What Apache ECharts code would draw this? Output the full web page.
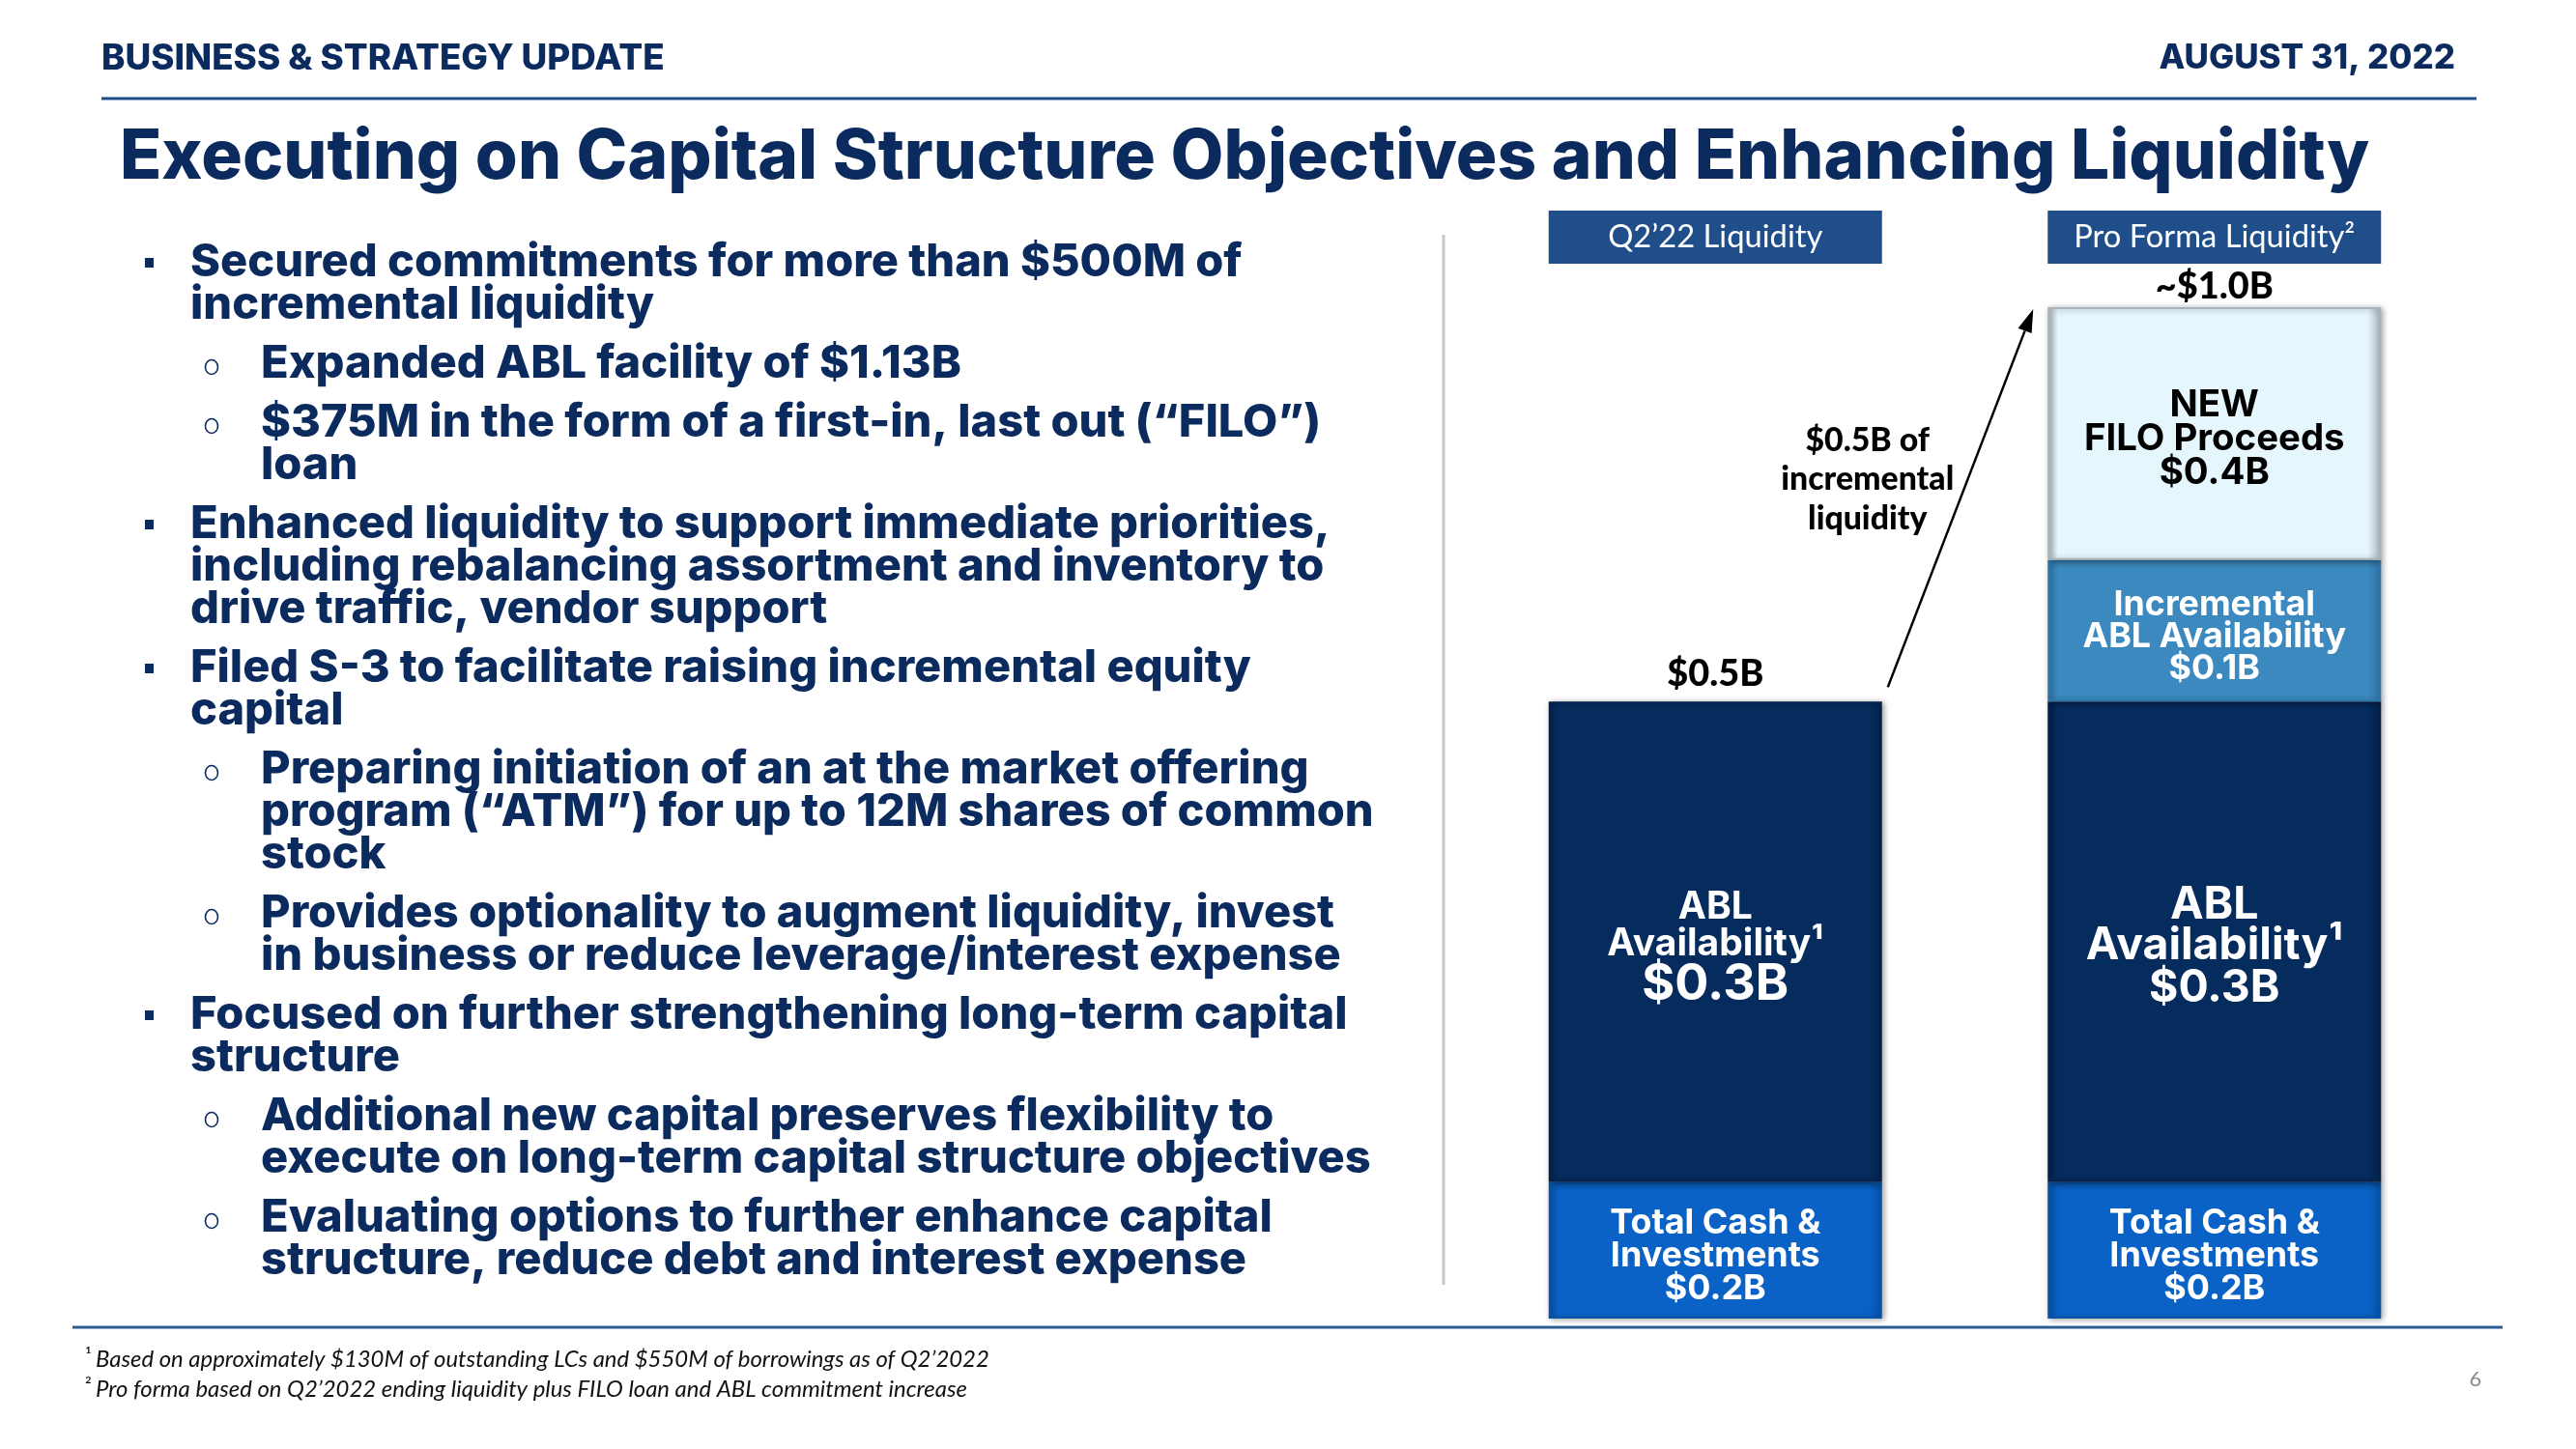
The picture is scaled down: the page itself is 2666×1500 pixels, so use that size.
<!DOCTYPE html>
<html><head><meta charset="utf-8">
<script src="https://cdn.jsdelivr.net/npm/echarts@6/dist/echarts.min.js"></script>
<style>html,body{margin:0;padding:0;background:#fff}#c{width:2666px;height:1500px}</style>
</head><body><div id="c"></div>
<script>
// ---------------- DATA ----------------
const categories = ["Q2’22 Liquidity", "Pro Forma Liquidity²"];
// segment heights as drawn in the picture ($B, scaled so the pro forma bar ≈ 1.0)
const cashValues = [0.135, 0.135];
const ablValues = [0.475, 0.475];
const incrementalValues = [null, 0.14];
const filoValues = [null, 0.25];
// printed labels
const cashLabels = ["Total Cash &\nInvestments\n$0.2B", "Total Cash &\nInvestments\n$0.2B"];
const ablLabels = ["ABL\nAvailability¹\n$0.3B", "ABL\nAvailability¹\n$0.3B"];
const incrementalLabels = ["", "Incremental\nABL Availability\n$0.1B"];
const filoLabels = ["", "NEW\nFILO Proceeds\n$0.4B"];
const totalLabels = ["$0.5B", "~$1.0B"];
const arrowNote = ["$0.5B of", "incremental", "liquidity"];

const headerLeft = "BUSINESS & STRATEGY UPDATE";
const headerRight = "AUGUST 31, 2022";
const titleText = "Executing on Capital Structure Objectives and Enhancing Liquidity";
const bulletParas = [
  {level: 1, lines: ["Secured commitments for more than $500M of", "incremental liquidity"]},
  {level: 2, lines: ["Expanded ABL facility of $1.13B"]},
  {level: 2, lines: ["$375M in the form of a first-in, last out (“FILO”)", "loan"]},
  {level: 1, lines: ["Enhanced liquidity to support immediate priorities,", "including rebalancing assortment and inventory to", "drive traffic, vendor support"]},
  {level: 1, lines: ["Filed S-3 to facilitate raising incremental equity", "capital"]},
  {level: 2, lines: ["Preparing initiation of an at the market offering", "program (“ATM”) for up to 12M shares of common", "stock"]},
  {level: 2, lines: ["Provides optionality to augment liquidity, invest", "in business or reduce leverage/interest expense"]},
  {level: 1, lines: ["Focused on further strengthening long-term capital", "structure"]},
  {level: 2, lines: ["Additional new capital preserves flexibility to", "execute on long-term capital structure objectives"]},
  {level: 2, lines: ["Evaluating options to further enhance capital", "structure, reduce debt and interest expense"]}
];
const footnotes = [
  {sup: "¹", text: "Based on approximately $130M of outstanding LCs and $550M of borrowings as of Q2’2022"},
  {sup: "²", text: "Pro forma based on Q2’2022 ending liquidity plus FILO loan and ABL commitment increase"}
];
const pageNumber = "6";

// ---------------- STYLE / LAYOUT ----------------
const NAVY = '#0B2B5E';
const RULE = '#1F4E8A';
const FG = 'Inter';
const FH = 'Lato';
const BAR_W = 345;
const ctx = document.createElement('canvas').getContext('2d');
function fit(text, target, weight, family, style) {
  ctx.font = (style || 'normal') + ' ' + weight + ' 100px "' + family + '"';
  return +(100 * target / ctx.measureText(text).width).toFixed(1);
}

const chart = echarts.init(document.getElementById('c'), null, {renderer: 'canvas', width: 2666, height: 1500});

function richLabel(text, color, specs) {
  if (!text) return {show: false};
  const lines = text.split('\n');
  const rich = {};
  lines.forEach((l, i) => {
    const s = specs[i];
    rich['r' + i] = {
      fontFamily: FG, fontWeight: 700, color: color,
      fontSize: fit(s.ref || l, s.w, 700, FG), lineHeight: s.lh
    };
  });
  return {
    show: true, position: 'inside', offset: [0, 6],
    formatter: lines.map((l, i) => '{r' + i + '|' + l + '}').join('\n'),
    rich: rich
  };
}
const cashSpec = [{w: 218, lh: 34, ref: 'Total Cash &'}, {w: 218, lh: 34, ref: 'Total Cash &'}, {w: 218, lh: 34, ref: 'Total Cash &'}];
const ablSpec = [
  [{w: 224, lh: 38, ref: 'Availability¹'}, {w: 224, lh: 38, ref: 'Availability¹'}, {w: 152, lh: 46, ref: '$0.3B'}],
  [{w: 266, lh: 42, ref: 'Availability¹'}, {w: 266, lh: 42, ref: 'Availability¹'}, {w: 266, lh: 46, ref: 'Availability¹'}]
];
const incSpec = [{w: 273, lh: 33, ref: 'ABL Availability'}, {w: 273, lh: 33, ref: 'ABL Availability'}, {w: 273, lh: 33, ref: 'ABL Availability'}];
const filoSpec = [{w: 270, lh: 35, ref: 'FILO Proceeds'}, {w: 270, lh: 35, ref: 'FILO Proceeds'}, {w: 270, lh: 35, ref: 'FILO Proceeds'}];

function seg(name, values, labels, color, light, border, txtColor, specFn) {
  return {
    type: 'bar', name: name, stack: 'liq', barWidth: BAR_W,
    itemStyle: {
      color: new echarts.graphic.LinearGradient(0, 0, 1, 0, [
        {offset: 0, color: border}, {offset: 0.03, color: color},
        {offset: 0.96, color: color}, {offset: 1, color: border}
      ]),
      borderColor: border, borderWidth: 2,
      shadowBlur: 6, shadowColor: 'rgba(0,0,0,0.35)', shadowOffsetX: 2, shadowOffsetY: 1
    },
    data: values.map((v, i) => ({
      value: v == null ? '-' : v,
      label: richLabel(labels[i], txtColor, specFn(i))
    }))
  };
}

chart.setOption({
  animation: false,
  grid: {left: 1517, width: 1033, top: 318, bottom: 135},
  xAxis: {type: 'category', data: categories, show: false},
  yAxis: {type: 'value', min: 0, max: 1.0, show: false},
  series: [
    seg('Total Cash & Investments', cashValues, cashLabels, '#0A62C6', '#3F8AE0', '#0852A8', '#fff', () => cashSpec),
    seg('ABL Availability', ablValues, ablLabels, '#062C5E', '#2A4F80', '#04224B', '#fff', i => ablSpec[i]),
    seg('Incremental ABL Availability', incrementalValues, incrementalLabels, '#3B89BF', '#6FAAD3', '#2F76A8', '#fff', () => incSpec),
    seg('NEW FILO Proceeds', filoValues, filoLabels, '#E6F6FD', '#FFFFFF', '#A8B3BC', '#000', () => filoSpec)
  ]
});

// ---------------- ANNOTATIONS ----------------
const g = [];
function txt(text, x, y, size, opts) {
  opts = opts || {};
  g.push({type: 'text', x: x, y: y, z: 50, style: {
    text: text, fontSize: size, fontFamily: opts.family || FG, fontWeight: opts.weight || 700,
    fontStyle: opts.style || 'normal', fill: opts.color || NAVY,
    align: opts.align || 'left', textAlign: opts.align || 'left',
    verticalAlign: 'middle', textVerticalAlign: 'middle'
  }});
}
function line(x1, y1, x2, y2, color, w) {
  g.push({type: 'line', z: 40, shape: {x1, y1, x2, y2}, style: {stroke: color, lineWidth: w}});
}

// header
txt(headerLeft, 105, 61, fit(headerLeft, 582, 800, FG), {weight: 800});
txt(headerRight, 2541, 61, fit(headerRight, 307, 800, FG), {weight: 800, align: 'right'});
line(105, 102, 2563, 102, RULE, 3);
txt(titleText, 124, 164, fit(titleText, 2329, 800, FG), {weight: 800});

// bullets
const bSize = fit("execute on long-term capital structure objectives", 1148, 800, FG);
let y = 272;
bulletParas.forEach((p, pi) => {
  if (pi > 0) y += 61 - 44;
  p.lines.forEach((l, li) => {
    if (li === 0) {
      if (p.level === 1) g.push({type: 'rect', z: 50, shape: {x: 150, y: y - 5, width: 9, height: 10}, style: {fill: NAVY}});
      else g.push({type: 'ellipse', z: 50, shape: {cx: 219, cy: y + 3, rx: 6.5, ry: 7.5}, style: {fill: 'none', stroke: NAVY, lineWidth: 1.6}});
    }
    txt(l, p.level === 1 ? 197 : 270, y, bSize, {weight: 800});
    y += 44;
  });
});

// separators
line(1494, 243, 1494, 1330, '#C8C8C8', 3);
line(75, 1374, 2590, 1374, '#2F5C93', 3);

// footnotes
const fSize = fit(footnotes[0].text, 924, 400, FH, 'italic');
footnotes.forEach((f, i) => {
  const fy = 1407 + i * 31;
  txt(f.sup, 88, fy - 3, fSize * 0.85, {family: FH, weight: 400, color: '#111'});
  txt(f.text, 99, fy, fSize, {family: FH, weight: 400, style: 'italic', color: '#111'});
});
txt(pageNumber, 2562, 1428, 22, {family: FH, weight: 400, color: '#8C8C8C', align: 'center'});

// bar-relative elements
const stackTop = i => [cashValues, ablValues, incrementalValues, filoValues].reduce((s, a) => s + (a[i] || 0), 0);
const hSize = fit(categories[0], 222, 400, FH);
const tSize = fit(totalLabels[0], 100, 900, FH);
const totalOffset = [29, 21];
categories.forEach((c, i) => {
  const [cx] = chart.convertToPixel({gridIndex: 0}, [i, 0]);
  g.push({type: 'rect', z: 45, shape: {x: cx - BAR_W / 2, y: 218, width: BAR_W, height: 55}, style: {fill: RULE}});
  txt(c, cx, 245.5, hSize, {family: FH, weight: 400, color: '#fff', align: 'center'});
  const [, ty] = chart.convertToPixel({gridIndex: 0}, [i, stackTop(i)]);
  txt(totalLabels[i], cx, ty - totalOffset[i], tSize, {family: FH, weight: 900, color: '#000', align: 'center'});
});

// arrow from Q2 bar to pro forma bar
const [c0x, t0y] = chart.convertToPixel({gridIndex: 0}, [0, stackTop(0)]);
const [c1x, t1y] = chart.convertToPixel({gridIndex: 0}, [1, stackTop(1)]);
const sx = c0x + BAR_W / 2 + 6, sy = t0y - 15;
const ex = c1x - BAR_W / 2 - 15, ey = t1y + 2;
const dx = ex - sx, dy = ey - sy, len = Math.hypot(dx, dy), ux = dx / len, uy = dy / len;
const L = 24, W = 7.5;
const bx = ex - ux * L, by = ey - uy * L;
g.push({type: 'line', z: 60, shape: {x1: sx, y1: sy, x2: bx, y2: by}, style: {stroke: '#000', lineWidth: 2.5}});
g.push({type: 'polygon', z: 60, shape: {points: [[ex, ey], [bx - uy * W, by + ux * W], [bx + uy * W, by - ux * W]]}, style: {fill: '#000'}});
const nSize = fit(arrowNote[1], 179, 900, FH);
arrowNote.forEach((l, i) => txt(l, c0x + BAR_W / 2 - 15, 456 + i * 40.5, nSize, {family: FH, weight: 900, color: '#000', align: 'center'}));

chart.setOption({graphic: {elements: g}});
</script></body></html>
